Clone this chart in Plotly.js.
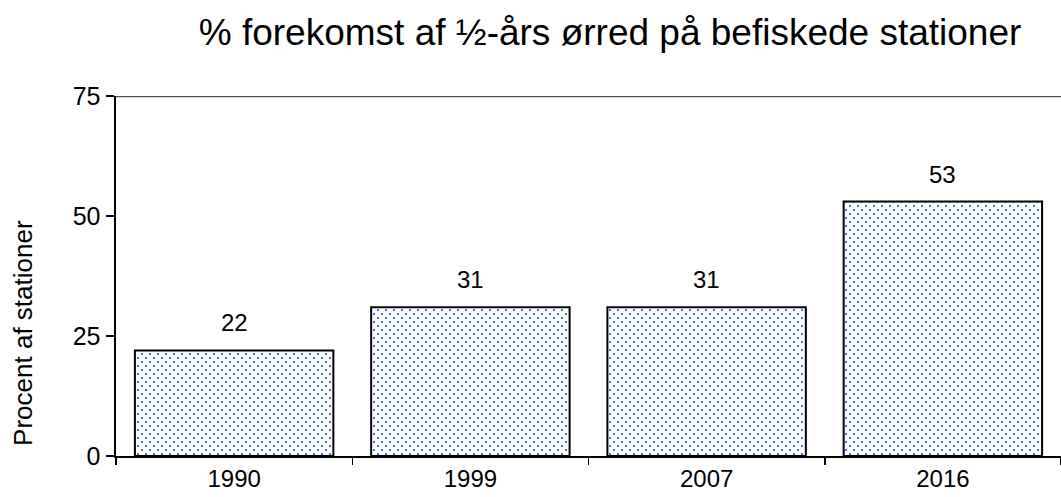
<!DOCTYPE html>
<html>
<head>
<meta charset="utf-8">
<script src="https://cdn.plot.ly/plotly-3.0.1.min.js"></script>
<style>html,body{margin:0;padding:0;background:#fff}#chart{width:1061px;height:497px}</style>
</head>
<body>
<div id="chart"></div>
<script>
var years = ["1990", "1999", "2007", "2016"];
var percent = [22, 31, 31, 53];
var yTicks = [0, 25, 50, 75];

var FONT = "Liberation Sans, Arial, sans-serif";
var DOT = "#4070ff";

var trace = {
  type: "bar",
  x: years,
  y: percent,
  width: 0.84,
  marker: {
    color: "#ffffff",
    line: {color: "#000000", width: 2},
    pattern: {shape: ".", fgcolor: DOT, bgcolor: "#ffffff", size: 5.7, solidity: 0.12, fillmode: "replace"}
  },
  hoverinfo: "none"
};

var annotations = percent.map(function (v, i) {
  return {
    x: i, y: v, xref: "x", yref: "y",
    text: String(v), showarrow: false,
    xanchor: "center", yanchor: "bottom", yshift: 12,
    font: {family: FONT, size: 24, color: "#000"}
  };
});
annotations.push({
  xref: "paper", yref: "paper", x: -0.0984, y: 0.342,
  xanchor: "center", yanchor: "middle", textangle: -90,
  text: "Procent af stationer", showarrow: false,
  font: {family: FONT, size: 26, color: "#000"}
});

var layout = {
  width: 1061, height: 497,
  margin: {l: 116, r: 0, t: 96, b: 41},
  paper_bgcolor: "#fff", plot_bgcolor: "#fff",
  showlegend: false,
  title: {
    text: "% forekomst af ½-års ørred på befiskede stationer",
    font: {family: FONT, size: 37, color: "#000"},
    x: 0.575, xanchor: "center", y: 0.936, yanchor: "middle"
  },
  xaxis: {
    type: "category",
    range: [-0.5, 3.5],
    showline: true, linecolor: "#000", linewidth: 2,
    ticks: "outside", ticklen: 7, tickwidth: 1.5, tickcolor: "#000",
    tickson: "boundaries",
    showgrid: false, zeroline: false,
    tickfont: {family: FONT, size: 24, color: "#000"}
  },
  yaxis: {
    range: [0, 75],
    tickvals: yTicks,
    ticktext: yTicks.map(String),
    showline: true, linecolor: "#000", linewidth: 2.5,
    ticks: "outside", ticklen: 8, tickwidth: 1.5, tickcolor: "#000",
    showgrid: false, zeroline: false,
    tickfont: {family: FONT, size: 25, color: "#000"}
  },
  shapes: [{
    type: "line", xref: "paper", yref: "y", x0: 0, x1: 1, y0: 75, y1: 75,
    line: {color: "#505050", width: 2.5}
  }],
  annotations: annotations
};

Plotly.newPlot("chart", [trace], layout, {staticPlot: true, displayModeBar: false}).then(function (gd) {
  // restyle the dot pattern tile into a staggered (diagonal) dot lattice like the original
  var NS = "http://www.w3.org/2000/svg";
  var pats = gd.querySelectorAll("pattern");
  pats.forEach(function (p) {
    p.setAttribute("width", 8);
    p.setAttribute("height", 8);
    while (p.firstChild) p.removeChild(p.firstChild);
    var bg = document.createElementNS(NS, "rect");
    bg.setAttribute("width", 8); bg.setAttribute("height", 8);
    bg.setAttribute("style", "fill:#ffffff;stroke:none;opacity:1");
    p.appendChild(bg);
    [[1, 1], [5, 5]].forEach(function (c) {
      var r = document.createElementNS(NS, "rect");
      r.setAttribute("x", c[0]); r.setAttribute("y", c[1]);
      r.setAttribute("width", 2); r.setAttribute("height", 2);
      r.setAttribute("style", "fill:" + DOT + ";stroke:none;opacity:1;fill-opacity:1");
      p.appendChild(r);
    });
  });
});
</script>
</body>
</html>
